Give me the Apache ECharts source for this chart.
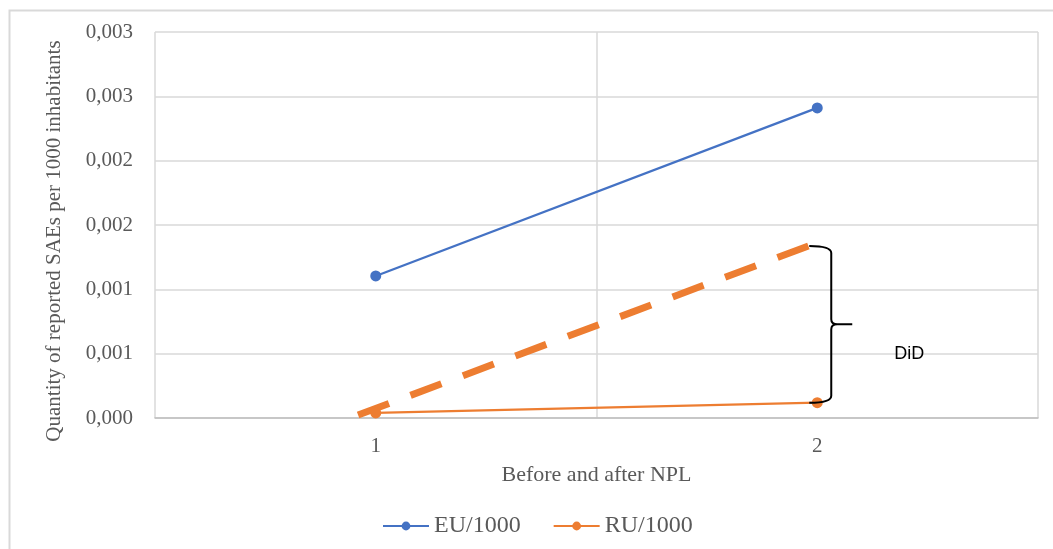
<!DOCTYPE html>
<html>
<head>
<meta charset="utf-8">
<script src="https://cdn.jsdelivr.net/npm/echarts@6/dist/echarts.min.js"></script>
<style>
  html, body { margin: 0; padding: 0; background: #fff; }
  #chart { width: 1053px; height: 549px; }
</style>
</head>
<body>
<div id="chart"></div>
<script>
// Periods on the x axis
const periods = ['1', '2'];
// Reported SAEs per 1000 inhabitants
const euValues = [0.001104, 0.00241];
const ruValues = [0.000039, 0.000119];
// Counterfactual trend for RU (parallel to EU), on a continuous period scale
const trendX = [0.96, 1.98];
const trendY = [0.000023, 0.001337];
// Y tick settings
const yMin = 0;
const yMax = 0.003;
const yStep = 0.0005;

const serif = '"Liberation Serif", "Times New Roman", serif';
const textGrey = '#595959';
const gridGrey = '#d9d9d9';

const chart = echarts.init(document.getElementById('chart'));

function fmtTick(v) {
  return (Math.round(v * 1000 + 1e-6) / 1000).toFixed(3).replace('.', ',');
}

// Curly brace between the trend end and the RU value in period 2
function renderBrace(params, api) {
  const top = api.coord([api.value(0), api.value(1)]);
  const bot = api.coord([api.value(0), api.value(2)]);
  const x0 = top[0] - 8;
  const xb = x0 + 22;
  const yTop = top[1];
  const yBot = bot[1];
  const yMid = (yTop + yBot) / 2;
  const r = 5;
  const d =
    'M' + x0 + ' ' + yTop +
    ' Q' + xb + ' ' + yTop + ' ' + xb + ' ' + (yTop + r + 2) +
    ' L' + xb + ' ' + (yMid - r) +
    ' Q' + xb + ' ' + yMid + ' ' + (xb + 6) + ' ' + yMid +
    ' L' + (xb + 21) + ' ' + yMid +
    ' M' + (xb + 6) + ' ' + yMid +
    ' Q' + xb + ' ' + yMid + ' ' + xb + ' ' + (yMid + r) +
    ' L' + xb + ' ' + (yBot - r - 2) +
    ' Q' + xb + ' ' + yBot + ' ' + x0 + ' ' + yBot;
  return {
    type: 'group',
    children: [
      {
        type: 'path',
        shape: { pathData: d },
        style: { fill: 'none', stroke: '#000', lineWidth: 2 }
      },
      {
        type: 'text',
        x: xb + 78,
        y: yMid + 30,
        style: {
          text: 'DiD',
          font: '18px "Liberation Sans", Arial, sans-serif',
          fill: '#000',
          align: 'center',
          verticalAlign: 'middle'
        }
      }
    ]
  };
}

chart.setOption({
  animation: false,
  backgroundColor: '#fff',
  grid: { left: 155, right: 15, top: 32, bottom: 131, containLabel: false },
  legend: {
    data: ['EU/1000', 'RU/1000'],
    top: 509,
    left: 377,
    itemWidth: 46,
    itemHeight: 11,
    itemGap: 32,
    textStyle: { fontFamily: serif, fontSize: 24, color: textGrey }
  },
  xAxis: [
    {
      type: 'category',
      data: periods,
      boundaryGap: true,
      name: 'Before and after NPL',
      nameLocation: 'middle',
      nameGap: 46,
      nameTextStyle: { fontFamily: serif, fontSize: 22, color: textGrey },
      axisLine: { lineStyle: { color: '#bfbfbf', width: 1.5 } },
      axisTick: { show: false },
      axisLabel: { fontFamily: serif, fontSize: 21, color: textGrey, margin: 18 },
      splitLine: { show: true, interval: 0, lineStyle: { color: gridGrey, width: 1.5 } }
    },
    {
      type: 'value',
      min: 0.5,
      max: 2.5,
      show: false
    }
  ],
  yAxis: {
    type: 'value',
    min: yMin,
    max: yMax,
    interval: yStep,
    axisLine: { show: false },
    axisTick: { show: false },
    axisLabel: {
      fontFamily: serif, fontSize: 21, color: textGrey, margin: 22,
      formatter: fmtTick
    },
    splitLine: { lineStyle: { color: gridGrey, width: 1.5 } }
  },
  graphic: [
    {
      type: 'rect',
      shape: { x: 9.5, y: 10.5, width: 1200, height: 700 },
      style: { fill: 'none', stroke: '#d9d9d9', lineWidth: 2 },
      silent: true,
      z: -1
    },
    {
      type: 'text',
      x: 54,
      y: 241,
      rotation: Math.PI / 2,
      style: {
        text: 'Quantity of reported SAEs per 1000 inhabitants',
        font: '21px "Liberation Serif", "Times New Roman", serif',
        fill: textGrey,
        align: 'center',
        verticalAlign: 'middle'
      },
      z: 10
    }
  ],
  series: [
    {
      name: 'trend',
      type: 'line',
      xAxisIndex: 1,
      data: trendX.map((x, i) => [x, trendY[i]]),
      symbol: 'none',
      lineStyle: { color: '#ED7D31', width: 7, type: [33, 23], cap: 'butt' },
      z: 1
    },
    {
      name: 'EU/1000',
      type: 'line',
      data: euValues,
      symbol: 'circle',
      symbolSize: 11,
      itemStyle: { color: '#4472C4' },
      lineStyle: { color: '#4472C4', width: 2.25 },
      z: 3
    },
    {
      name: 'RU/1000',
      type: 'line',
      data: ruValues,
      symbol: 'circle',
      symbolSize: 11,
      itemStyle: { color: '#ED7D31' },
      lineStyle: { color: '#ED7D31', width: 2.25 },
      z: 2
    },
    {
      name: 'DiD',
      type: 'custom',
      data: [[1, trendY[1], ruValues[1]]],
      renderItem: renderBrace,
      silent: true,
      z: 5
    }
  ]
});
</script>
</body>
</html>
